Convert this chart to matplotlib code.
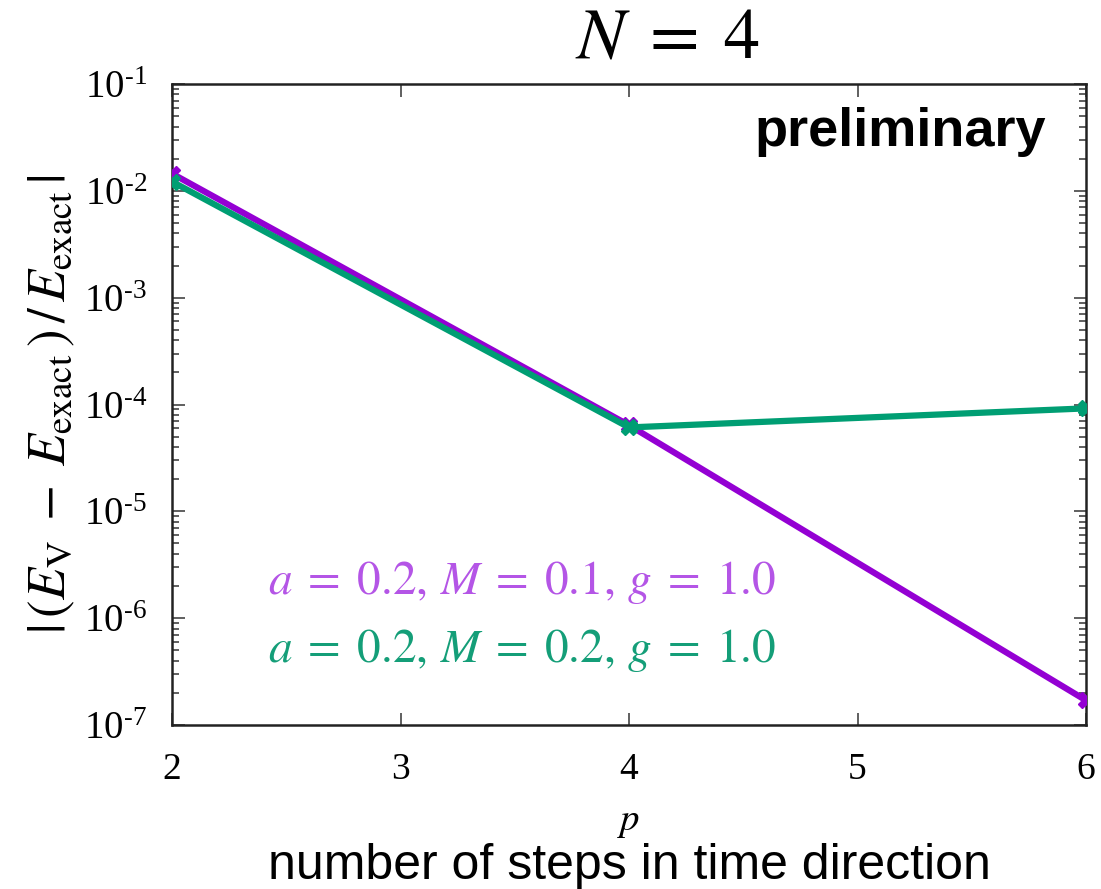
import matplotlib
matplotlib.use("Agg")
import matplotlib.pyplot as plt
import numpy as np
from matplotlib.ticker import LogLocator, NullFormatter

plt.rcParams['mathtext.fontset'] = 'stix'
plt.rcParams['font.family'] = ['Liberation Serif', 'DejaVu Serif']

p_vals = [2, 4, 6]
err_m01 = [1.45e-2, 6.4e-5, 1.7e-7]
err_m02 = [1.22e-2, 6.1e-5, 9.2e-5]
label_m01 = r'$a\;=\;0.2,\, M\;=\;0.1,\, g\;=\;1.0$'
label_m02 = r'$a\;=\;0.2,\, M\;=\;0.2,\, g\;=\;1.0$'
xticks = [2, 3, 4, 5, 6]
ydecades = [-7, -6, -5, -4, -3, -2, -1]

fig = plt.figure(figsize=(11.01, 8.89), dpi=100)
ax = fig.add_axes([172/1101, 1-725/889, (1086-172)/1101, (725-84)/889])

ax.plot(p_vals, err_m01, color='#9400d3', lw=4.5, marker='X', ms=11, zorder=3)
ax.plot(p_vals, err_m02, color='#009e73', lw=4.5, marker='X', ms=11, zorder=4)

ax.set_yscale('log')
ax.set_xlim(2, 6)
ax.set_ylim(1e-7, 1e-1)
ax.set_xticks(xticks)
ax.set_xticklabels([str(t) for t in xticks], fontsize=27)
ax.set_yticks([10.0**d for d in ydecades])
ax.set_yticklabels([r'$\mathregular{10^{\text{-}%d}}$' % (-d) for d in ydecades], fontsize=28)
ax.yaxis.set_minor_locator(LogLocator(base=10, subs=np.arange(2, 10)))
ax.yaxis.set_minor_formatter(NullFormatter())
ax.tick_params(which='both', direction='in', top=True, right=True, width=1.2, color='#444444')
ax.tick_params(axis='x', which='major', length=9, pad=20)
ax.tick_params(axis='y', which='major', length=9, pad=18)
ax.tick_params(which='minor', length=5)
for s in ax.spines.values():
    s.set_linewidth(1.8)
    s.set_color('#222222')

ax.set_ylabel(r'$|\,(E_{\mathrm{V}}\;-\;E_{\mathrm{exact}}\,)\,/\,E_{\mathrm{exact}}\,|$',
              fontsize=38, labelpad=5)

fig.text(668/1101, 1-40/889, r'$N\;=\;4$', fontsize=52, ha='center', va='center')
fig.text(629/1101, 1-822/889, r'$p$', fontsize=28, ha='center', va='center')
fig.text(629/1101, 1-866/889, 'number of steps in time direction', fontsize=36,
         ha='center', va='center', family=['Liberation Sans', 'DejaVu Sans'])
ax.text(0.956, 0.925, 'preliminary', transform=ax.transAxes, fontsize=39, fontweight='bold',
        ha='right', va='center', family=['Liberation Sans', 'DejaVu Sans'])
ax.text(0.105, 0.222, label_m01, transform=ax.transAxes, fontsize=34, color='#b455e6',
        ha='left', va='center')
ax.text(0.105, 0.116, label_m02, transform=ax.transAxes, fontsize=34, color='#149e78',
        ha='left', va='center')

fig.savefig('out.png', dpi=100)
